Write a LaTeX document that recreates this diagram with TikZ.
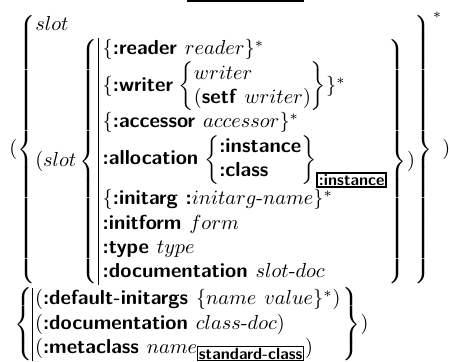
\documentclass[tikz,border=0pt]{standalone}
\usepackage{array}
% keywords in bold sans, defaults in a small framed box
\newcommand{\kw}[1]{\textsf{\textbf{#1}}}
\newcommand{\dflt}[2][0.5pt]{{\setlength{\fboxsep}{0.3pt}\setlength{\fboxrule}{#1}\fbox{\footnotesize\kw{#2}}}}
\newcommand{\hy}{\mbox{-}}
\newcommand{\gap}{\mskip 7mu}
\begin{document}
\begin{tikzpicture}[x=1pt,y=1pt]
\useasboundingbox (0,0) rectangle (221,-177.7);
% lower edge of the default box from the line above
\fill (92,0) rectangle (149.6,-1);
% slot specifiers
\node[anchor=north west, inner sep=0] (slots) at (4.4,-5.6) {$
(\left\{\begin{array}{@{}l@{}}
  slot\\
  (slot\left\{\begin{array}{|@{\hspace{2pt}}l@{\hspace{0.5pt}}}
     \{\kw{:reader}\gap reader\}^*\\
     \{\kw{:writer}\mskip 2mu\left\{\begin{array}{@{}l@{}} writer\\ (\kw{setf}\gap writer)\end{array}\right\}\}^*\\
     \{\kw{:accessor}\gap accessor\}^*\\
     \kw{:allocation}\mskip 2mu\left\{\begin{array}{@{}l@{}}\kw{:instance}\\ \kw{:class}\end{array}\right\}_{\dflt[0.9pt]{:instance}}\\
     \{\kw{:initarg}\gap\kw{:}initarg\hy name\}^*\\
     \kw{:initform}\gap form\\
     \kw{:type}\gap type\\
     \kw{:documentation}\gap slot\hy doc
  \end{array}\right\})
\end{array}\right\}^*)$};
% class options
\node[anchor=north west, inner sep=0] (options) at ([shift={(2.4,-0.8)}]slots.south west) {$
\left\{\begin{array}{|@{\hspace{1pt}}l@{\hspace{1pt}}}
  (\kw{:default-initargs}\gap\{name\gap value\}^*)\\
  (\kw{:documentation}\gap class\hy doc)\\
  (\kw{:metaclass}\gap name_{\dflt{standard-class}})
\end{array}\right\})$};
\end{tikzpicture}
\end{document}
